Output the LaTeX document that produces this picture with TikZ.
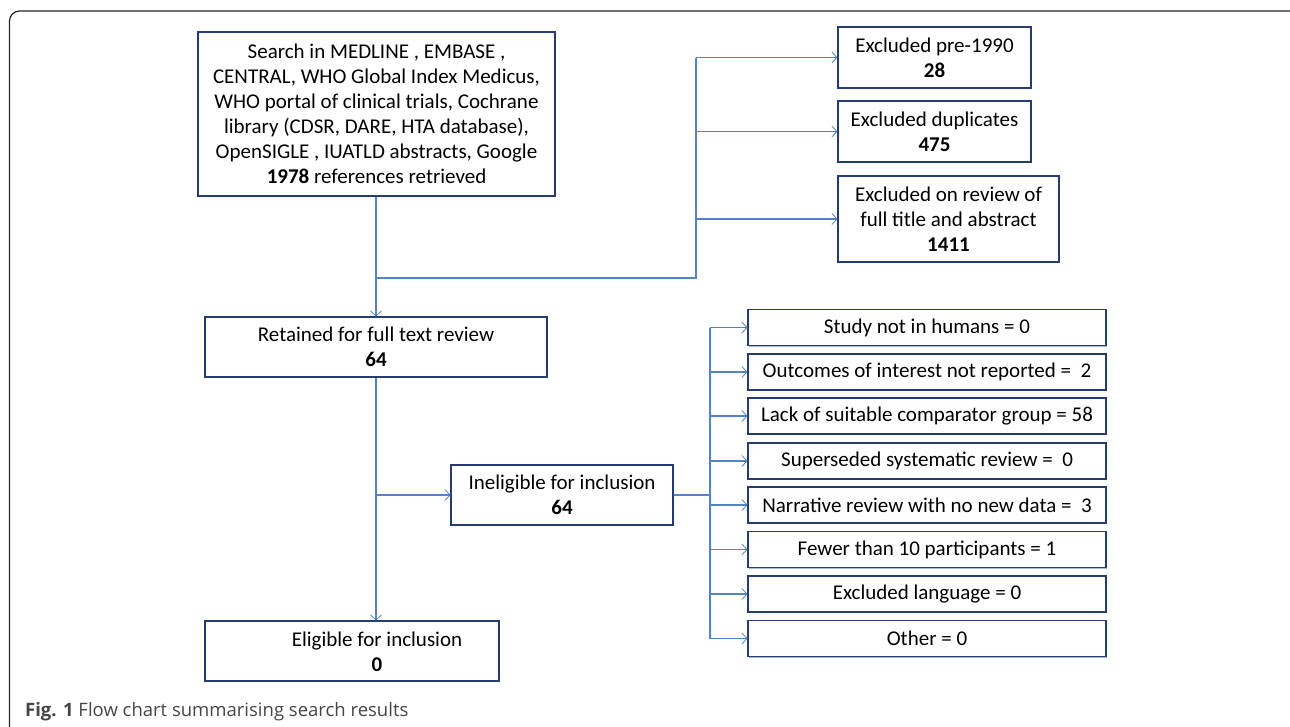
\documentclass[tikz,border=0pt]{standalone}
\usepackage{fontspec}
\setmainfont{Carlito}
\newfontfamily\capfont{Open Sans}
\usetikzlibrary{arrows.meta,shadows}
\definecolor{boxline}{RGB}{36,60,115}
\definecolor{arrowcol}{RGB}{84,130,200}
\definecolor{shadowcol}{RGB}{170,185,210}
\definecolor{capgray}{RGB}{70,70,70}
\tikzset{
  boxtext/.style={align=center, inner sep=0pt, font=\fontsize{21}{25}\selectfont},
  box/.style={boxtext, draw=boxline, line width=1.1pt, fill=white,
    drop shadow={shadow xshift=1.3pt, shadow yshift=-1.3pt, fill=shadowcol, opacity=1}},
  listbox/.style={box, minimum width=358pt, minimum height=36pt},
  conn/.style={draw=arrowcol, line width=1.1pt},
  arr/.style={conn, -{Straight Barb[length=5pt,width=11pt,line width=0.8pt]}},
}
\begin{document}
\begin{tikzpicture}[x=1pt,y=-1pt]
\useasboundingbox (0,0) rectangle (1290,726);
\begin{scope}
\clip (0,0) rectangle (1290,726);
\draw[line width=1.2pt, color=black!85, rounded corners=10pt] (9.5,11) rectangle (1300,740);
\end{scope}

\node[box, minimum width=357pt, minimum height=164pt] (search) at (376.5,114)
  {Search in MEDLINE , EMBASE ,\\ CENTRAL, WHO Global Index Medicus,\\ WHO portal of clinical trials, Cochrane\\ library (CDSR, DARE, HTA database),\\ OpenSIGLE , IUATLD abstracts, Google\\ \textbf{1978} references retrieved};
\node[box, minimum width=193pt, minimum height=61pt] (pre) at (934.5,57.5) {Excluded pre-1990\\ \textbf{28}};
\node[box, minimum width=193pt, minimum height=61pt] (dup) at (934.5,131.5) {Excluded duplicates\\ \textbf{475}};
\node[box, minimum width=221pt, minimum height=86pt] (rev) at (948.5,219) {Excluded on review of\\ full title and abstract\\ \textbf{1411}};
\node[box, minimum width=342pt, minimum height=60pt] (ret) at (376,347) {Retained for full text review\\ \textbf{64}};
\node[box, minimum width=222pt, minimum height=60pt] (inel) at (562,495) {Ineligible for inclusion\\ \textbf{64}};
\node[box, minimum width=294pt, minimum height=60pt] (elig) at (352,651) {};
\node[boxtext] (eligtext) at (377,652) {Eligible for inclusion\\ \textbf{0}};

\node[listbox] (l1) at (927,327.5) {Study not in humans = 0};
\node[listbox] (l2) at (927,372) {Outcomes of interest not reported = \ 2};
\node[listbox] (l3) at (927,416) {Lack of suitable comparator group = 58};
\node[listbox] (l4) at (927,461) {Superseded systematic review = \ 0};
\node[listbox] (l5) at (927,505) {Narrative review with no new data = \ 3};
\node[listbox] (l6) at (927,549.5) {Fewer than 10 participants = 1};
\node[listbox] (l7) at (927,594) {Excluded language = 0};
\node[listbox] (l8) at (927,638.5) {Other = 0};

% connectors from search
\coordinate (j1) at (376,278);
\coordinate (v1) at (696,278);
\draw[arr] (search.south -| ret.north) -- (ret.north);
\draw[conn] (j1) -- (v1) -- (696,57.5);
\draw[arr] (696,57.5) -- (pre.west);
\draw[arr] (696,131.5) -- (dup.west);
\draw[arr] (696,219) -- (rev.west);

% from retained
\draw[arr] (ret.south) -- (ret.south |- elig.north);
\draw[arr] (376,495) -- (inel.west);

% from ineligible
\coordinate (v2) at (710,495);
\draw[conn] (inel.east) -- (v2);
\draw[conn] (710,327.5) -- (710,638.5);
\foreach \i/\y in {1/327.5,2/372,3/416,4/461,5/505,6/549.5,7/594,8/638.5}
  \draw[arr] (710,\y) -- (l\i.west);

\node[anchor=base west, inner sep=0pt, font=\capfont\fontsize{18.5}{22}\selectfont, text=capgray] (cap) at (25,716)
  {\textbf{Fig. 1} Flow chart summarising search results};
\end{tikzpicture}
\end{document}
